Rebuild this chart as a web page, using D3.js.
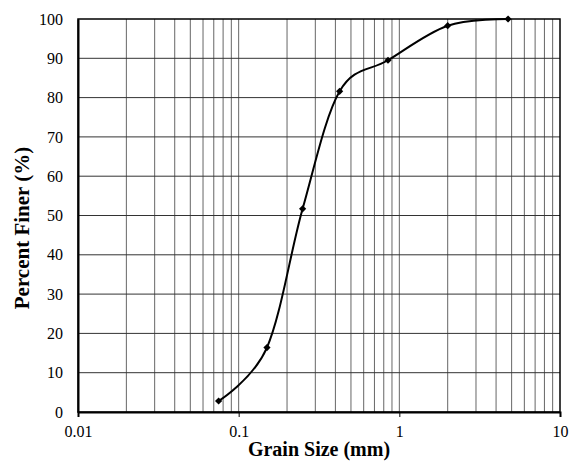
<!DOCTYPE html>
<html>
<head>
<meta charset="utf-8">
<script src="https://cdn.jsdelivr.net/npm/d3@7"></script>
<style>
  html, body { margin: 0; padding: 0; background: #fff; }
  svg { display: block; }
  svg text { font-family: "Liberation Serif", "Times New Roman", serif; fill: #000; }
</style>
</head>
<body>
<svg id="chart" width="571" height="461"></svg>
<script>
// Data
const grainSize = [0.075, 0.15, 0.25, 0.425, 0.85, 2.0, 4.75];
const percentFiner = [2.8, 16.4, 51.7, 81.6, 89.5, 98.3, 100];
const xTickValues = [0.01, 0.1, 1, 10];
const xTickLabels = ["0.01", "0.1", "1", "10"];
const yTickValues = [0, 10, 20, 30, 40, 50, 60, 70, 80, 90, 100];
const xTitle = "Grain Size (mm)";
const yTitle = "Percent Finer (%)";

const svg = d3.select("#chart");
const m = { left: 78, right: 11, top: 19, bottom: 49 };
const W = 571, H = 461;
const x = d3.scaleLog().domain([0.01, 10]).range([m.left, W - m.right]);
const y = d3.scaleLinear().domain([0, 100]).range([H - m.bottom, m.top]);

const serif = "Liberation Serif";

// Minor vertical gridlines
const minor = [];
for (let d = 0.01; d < 10; d *= 10) {
  for (let k = 1; k <= 9; k++) {
    const v = +(d * k).toPrecision(3);
    if (v > 0.01 && v < 10) minor.push(v);
  }
}
svg.append("g").selectAll("line").data(minor).join("line")
  .attr("x1", d => x(d)).attr("x2", d => x(d))
  .attr("y1", y(0)).attr("y2", y(100))
  .attr("stroke", "#666").attr("stroke-width", 1);

// Horizontal gridlines
svg.append("g").selectAll("line").data(yTickValues.filter(v => v > 0 && v < 100)).join("line")
  .attr("x1", x(0.01)).attr("x2", x(10))
  .attr("y1", d => y(d)).attr("y2", d => y(d))
  .attr("stroke", "#333").attr("stroke-width", 1);

// Plot border
svg.append("rect")
  .attr("x", x(0.01)).attr("y", y(100))
  .attr("width", x(10) - x(0.01)).attr("height", y(0) - y(100))
  .attr("fill", "none").attr("stroke", "#000").attr("stroke-width", 1.5);

// X axis
const xAxis = d3.axisBottom(x).tickValues(xTickValues)
  .tickFormat((d, i) => xTickLabels[i]).tickSize(5).tickPadding(9);
const gx = svg.append("g").attr("transform", `translate(0,${y(0)})`).call(xAxis)
  .attr("font-family", serif).attr("font-size", 16);
gx.select(".domain").attr("stroke", "#000").attr("stroke-width", 2);
gx.selectAll(".tick line").attr("stroke", "#000").attr("stroke-width", 1);
gx.selectAll(".tick text").attr("fill", "#000");

// Y axis
const yAxis = d3.axisLeft(y).tickValues(yTickValues).tickSize(0).tickPadding(15);
const gy = svg.append("g").attr("transform", `translate(${x(0.01)},0)`).call(yAxis)
  .attr("font-family", serif).attr("font-size", 16);
gy.select(".domain").attr("stroke", "#000").attr("stroke-width", 2);
gy.selectAll(".tick text").attr("fill", "#000");

// Curve
const pts = grainSize.map((g, i) => [g, percentFiner[i]]);
const line = d3.line().x(d => x(d[0])).y(d => y(d[1])).curve(d3.curveCardinal.tension(0));
svg.append("path").datum(pts).attr("d", line)
  .attr("fill", "none").attr("stroke", "#000").attr("stroke-width", 2);

// Markers
const sym = d3.symbol().type(d3.symbolSquare).size(26);
svg.append("g").selectAll("path").data(pts).join("path")
  .attr("d", sym)
  .attr("transform", d => `translate(${x(d[0])},${y(d[1])}) rotate(45)`)
  .attr("fill", "#000");

// Titles
svg.append("text").attr("x", (x(0.01) + x(10)) / 2).attr("y", 456)
  .attr("text-anchor", "middle")
  .attr("font-weight", "bold").attr("font-size", 20).text(xTitle);
svg.append("text")
  .attr("transform", `translate(29,228) rotate(-90)`)
  .attr("text-anchor", "middle")
  .attr("font-weight", "bold").attr("font-size", 21).text(yTitle);
</script>
</body>
</html>
